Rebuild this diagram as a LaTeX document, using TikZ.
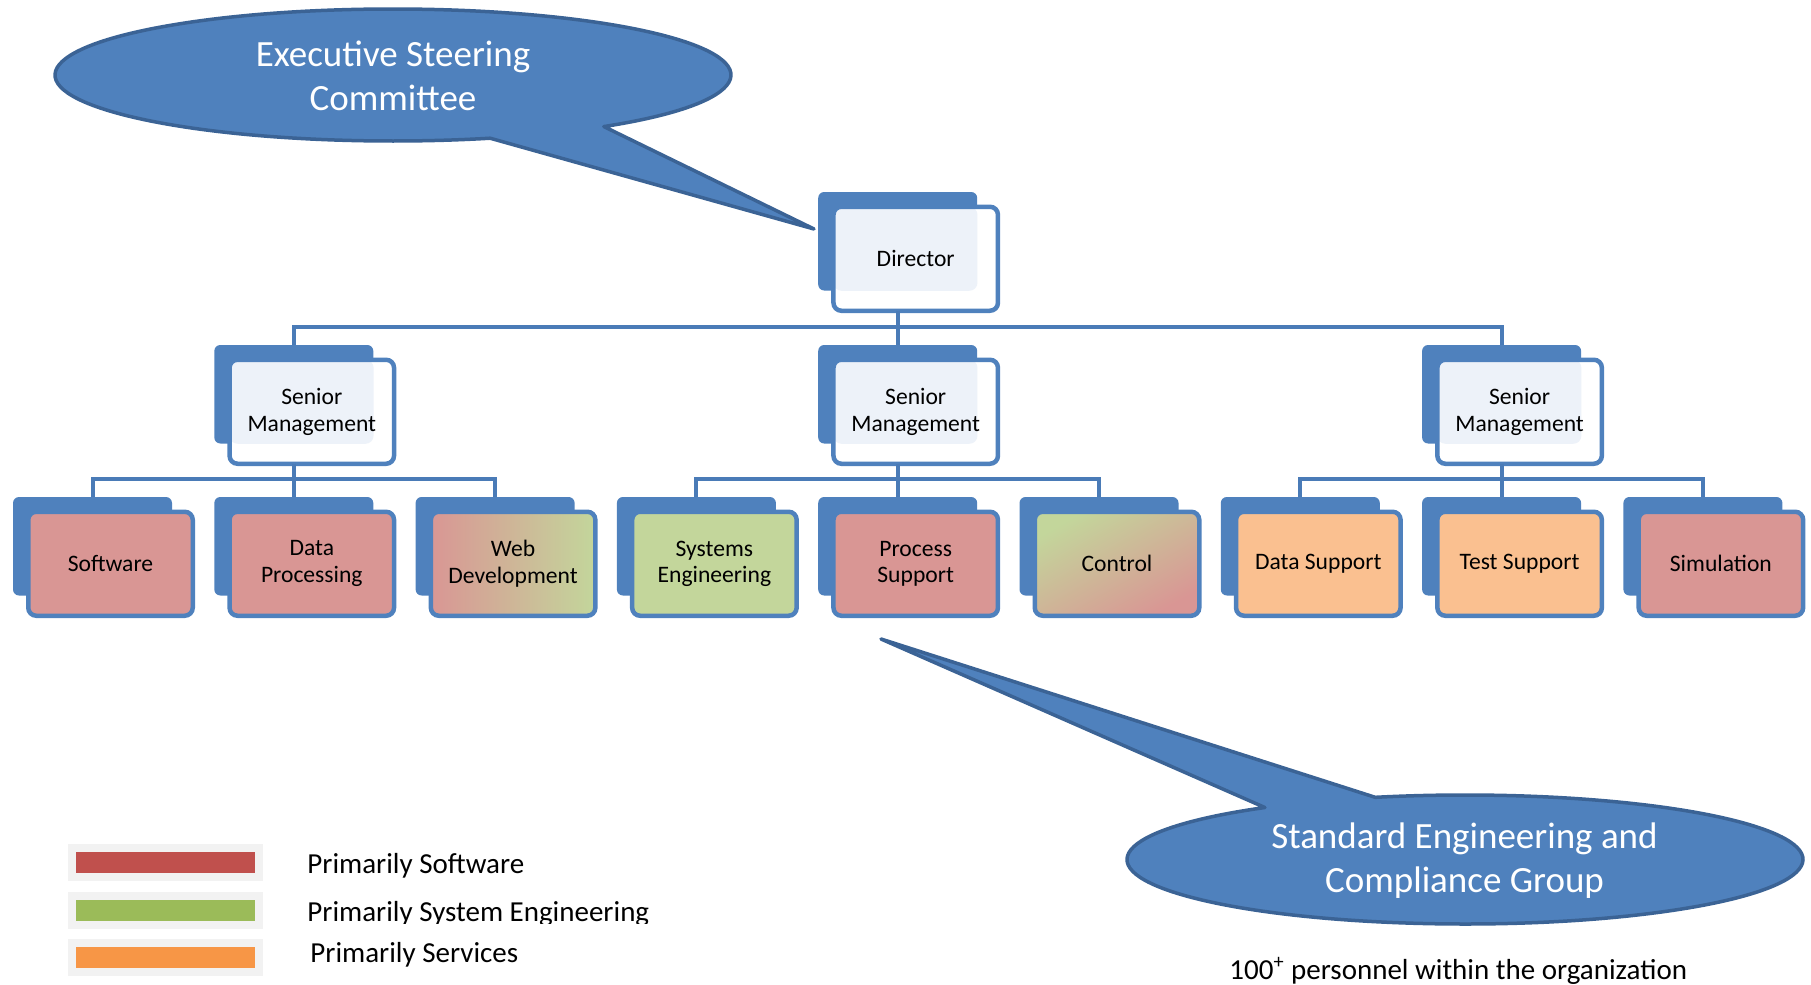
\documentclass[tikz,border=0pt]{standalone}
\usepackage{fontspec}
\setmainfont{Carlito}
\definecolor{boxblue}{HTML}{4F81BD}
\definecolor{linkblue}{HTML}{4A7BB7}
\definecolor{callborder}{HTML}{3B6395}
\definecolor{pinkc}{HTML}{D99694}
\definecolor{greenc}{HTML}{C3D69B}
\definecolor{orangec}{HTML}{FAC090}
\definecolor{dotc}{HTML}{EDF2F9}
\definecolor{legred}{HTML}{C0504D}
\definecolor{leggreen}{HTML}{9BBB59}
\definecolor{legorange}{HTML}{F79646}
\definecolor{leggrey}{HTML}{F2F2F2}
\newcommand\orgbox[5]{%
  \node[backbox] (#1B) at (#2,-#3) {};
  \node[frontbox,#4] (#1) at (#2+15.25,-#3-14.75) {#5};}
\begin{document}
\begin{tikzpicture}[x=0.5pt,y=0.5pt,
  backbox/.style={rectangle, fill=boxblue, draw=none, rounded corners=3pt,
    minimum width=79.5pt, minimum height=49.25pt, inner sep=0pt, outer sep=0pt, anchor=north west},
  frontbox/.style={rectangle, draw=boxblue, line width=2.25pt, rounded corners=4pt,
    minimum width=82.25pt, minimum height=52pt, inner sep=0pt, outer sep=0pt, anchor=north west,
    align=center, font=\fontsize{11.8}{13.3}\selectfont, text=black},
  mgmt/.style={fill=white, path picture={\fill[dotc] (path picture bounding box.north west) rectangle ++(72pt,-42pt);}},
  sw/.style={fill=pinkc},
  se/.style={fill=greenc},
  sv/.style={fill=orangec},
  webmix/.style={left color=pinkc, right color=greenc},
  ctrlmix/.style={top color=greenc, middle color=greenc, bottom color=pinkc, shading angle=30},
  conn/.style={draw=linkblue, line width=2pt},
  callout/.style={fill=boxblue, draw=callborder, line width=1.75pt, line join=round},
  calltext/.style={text=white, align=center, font=\fontsize{18.5}{22}\selectfont},
  legbox/.style={rectangle, fill=leggrey, minimum width=97.5pt, minimum height=18.5pt, inner sep=0pt, outer sep=0pt, anchor=north west},
  legbar/.style={rectangle, minimum width=89.5pt, minimum height=10.5pt, inner sep=0pt, outer sep=0pt},
  legtext/.style={anchor=base west, inner sep=0pt, font=\fontsize{14.5}{17}\selectfont}
]
\useasboundingbox (0,0) rectangle (1811,-985);

% boxes
\orgbox{dir}{818.2}{192}{mgmt}{Director}
\orgbox{smA}{214.3}{345}{mgmt}{Senior\\Management}
\orgbox{smB}{818.2}{345}{mgmt}{Senior\\Management}
\orgbox{smC}{1422.1}{345}{mgmt}{Senior\\Management}

\orgbox{c1}{13}{497}{sw}{Software}
\orgbox{c2}{214.3}{497}{sw}{Data\\Processing}
\orgbox{c3}{415.6}{497}{webmix}{Web\\Development}
\orgbox{c4}{616.9}{497}{se}{Systems\\Engineering}
\orgbox{c5}{818.2}{497}{sw}{Process\\Support}
\orgbox{c6}{1019.5}{497}{ctrlmix}{Control}
\orgbox{c7}{1220.8}{497}{sv}{Data Support}
\orgbox{c8}{1422.1}{497}{sv}{Test Support}
\orgbox{c9}{1623.4}{497}{sw}{Simulation}

% connectors
\coordinate (bus1) at (0,-327);
\coordinate (busA) at (0,-479);
\draw[conn] (dirB.south |- dir.south) -- (dirB.south |- bus1);
\draw[conn] (smAB.north) -- (smAB.north |- bus1) -- (smCB.north |- bus1) -- (smCB.north);
\draw[conn] (smBB.north |- bus1) -- (smBB.north);

\draw[conn] (smAB.south |- smA.south) -- (smAB.south |- busA);
\draw[conn] (c1B.north) -- (c1B.north |- busA) -- (c3B.north |- busA) -- (c3B.north);
\draw[conn] (c2B.north |- busA) -- (c2B.north);

\draw[conn] (smBB.south |- smB.south) -- (smBB.south |- busA);
\draw[conn] (c4B.north) -- (c4B.north |- busA) -- (c6B.north |- busA) -- (c6B.north);
\draw[conn] (c5B.north |- busA) -- (c5B.north);

\draw[conn] (smCB.south |- smC.south) -- (smCB.south |- busA);
\draw[conn] (c7B.north) -- (c7B.north |- busA) -- (c9B.north |- busA) -- (c9B.north);
\draw[conn] (c8B.north |- busA) -- (c8B.north);

% callouts
\coordinate (ec) at (393,-75);
\coordinate (etip) at (814,-229);
\path[callout] (ec) ++(-51.4:169pt and 33pt) arc[start angle=-51.4, end angle=286.7, x radius=169pt, y radius=33pt] -- (etip) -- cycle;
\node[calltext] (exect) at (393,-76) {Executive Steering\\Committee};

\coordinate (sc) at (1465,-859.5);
\coordinate (stip) at (881,-639);
\path[callout] (sc) ++(126.3:169pt and 32.25pt) arc[start angle=126.3, end angle=465.4, x radius=169pt, y radius=32.25pt] -- (stip) -- cycle;
\node[calltext] (stdt) at (1464.5,-861) {Standard Engineering and\\Compliance Group};

% legend
\node[legbox] (lgA) at (68,-844) {};
\node[legbar, fill=legred] (lbA) at (lgA.center) {};
\node[legbox] (lgB) at (68,-892) {};
\node[legbar, fill=leggreen] (lbB) at (lgB.center) {};
\node[legbox] (lgC) at (68,-939) {};
\node[legbar, fill=legorange] (lbC) at (lgC.center) {};

\node[legtext] (ltA) at (307,-873) {Primarily Software};
\begin{scope}
  \clip (300,-880) rectangle (760,-923);
  \node[legtext] (ltB) at (307,-921) {Primarily System Engineering};
\end{scope}
\node[legtext] (ltC) at (310,-962) {Primarily Services};

\node[legtext] (note) at (1229,-979) {100\textsuperscript{+} personnel within the organization};
\end{tikzpicture}
\end{document}
